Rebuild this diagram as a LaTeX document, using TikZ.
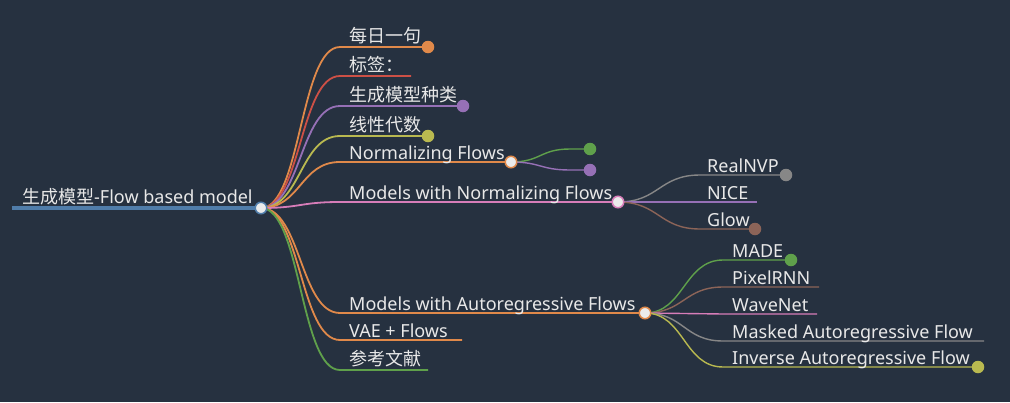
\documentclass[tikz,border=0pt]{standalone}
\usepackage{fontspec}
\setmainfont{Noto Sans}
\newfontfamily\cjk{Noto Sans CJK SC}
\definecolor{bg}{RGB}{38,49,64}
\definecolor{txt}{RGB}{232,232,232}
\definecolor{nodefill}{RGB}{235,235,235}
\definecolor{corange}{RGB}{224,137,74}
\definecolor{cred}{RGB}{205,80,70}
\definecolor{cpurple}{RGB}{150,112,182}
\definecolor{colive}{RGB}{185,185,80}
\definecolor{cgreen}{RGB}{95,160,75}
\definecolor{cpink}{RGB}{215,125,185}
\definecolor{cgray}{RGB}{135,135,135}
\definecolor{cbrown}{RGB}{140,100,88}
\definecolor{cblue}{RGB}{80,125,170}
\newcommand{\zh}[1]{{\cjk\fontsize{18}{21}\selectfont #1}}
\begin{document}
\begin{tikzpicture}[x=1pt,y=-1pt,
  lbl/.style={anchor=base west, inner sep=0pt, text=txt, font=\fontsize{18}{21}\selectfont},
  link/.style={line width=1.8pt},
  sublink/.style={line width=1.4pt},
  rootline/.style={line width=3.8pt},
  hub/.style={circle, fill=nodefill, draw=#1, line width=1.5pt, minimum size=11.5pt, inner sep=0pt},
  dot/.style={circle, fill=#1, minimum size=12.5pt, inner sep=0pt},
]
\fill[bg] (0,0) rectangle (1010,402);
\useasboundingbox (0,0) rectangle (1010,402);

% positions
\coordinate (Rs) at (12,208);
\coordinate (R) at (261,208);
\coordinate (N) at (511,162);
\coordinate (M) at (618,202);
\coordinate (A) at (645,313);

\coordinate (s1) at (340,47);  \coordinate (e1) at (428,47);
\coordinate (s2) at (340,76);  \coordinate (e2) at (411,76);
\coordinate (s3) at (340,106); \coordinate (e3) at (463,106);
\coordinate (s4) at (340,136); \coordinate (e4) at (428,136);
\coordinate (s5) at (340,162);
\coordinate (s6) at (340,202);
\coordinate (s7) at (340,313);
\coordinate (s8) at (340,340); \coordinate (e8) at (462,340);
\coordinate (s9) at (340,370); \coordinate (e9) at (428,370);

\coordinate (n1s) at (570,149); \coordinate (n1e) at (590,149);
\coordinate (n2s) at (570,170); \coordinate (n2e) at (590,170);

\coordinate (m1s) at (700,175); \coordinate (m1e) at (786,175);
\coordinate (m2s) at (700,202); \coordinate (m2e) at (757,202);
\coordinate (m3s) at (700,229); \coordinate (m3e) at (755,229);

\coordinate (a1s) at (723,260); \coordinate (a1e) at (791,260);
\coordinate (a2s) at (723,287); \coordinate (a2e) at (819,287);
\coordinate (a3s) at (723,314); \coordinate (a3e) at (817,314);
\coordinate (a4s) at (723,341); \coordinate (a4e) at (984,341);
\coordinate (a5s) at (723,367); \coordinate (a5e) at (978,367);

% root line
\draw[rootline, cblue] (Rs) -- (R);

% first-level links
\draw[link, corange] (R) .. controls +(40,0) and +(-40,0) .. (s1) -- (e1);
\draw[link, cred]    (R) .. controls +(40,0) and +(-40,0) .. (s2) -- (e2);
\draw[link, cpurple] (R) .. controls +(40,0) and +(-40,0) .. (s3) -- (e3);
\draw[link, colive]  (R) .. controls +(40,0) and +(-40,0) .. (s4) -- (e4);
\draw[link, corange] (R) .. controls +(40,0) and +(-40,0) .. (s5) -- (N);
\draw[link, cpink]   (R) .. controls +(40,0) and +(-40,0) .. (s6) -- (M);
\draw[link, corange] (R) .. controls +(40,0) and +(-40,0) .. (s7) -- (A);
\draw[link, corange] (R) .. controls +(40,0) and +(-40,0) .. (s8) -- (e8);
\draw[link, cgreen]  (R) .. controls +(40,0) and +(-40,0) .. (s9) -- (e9);

% Normalizing Flows children
\draw[sublink, cgreen]  (N) .. controls +(30,0) and +(-30,0) .. (n1s) -- (n1e);
\draw[sublink, cpurple] (N) .. controls +(30,0) and +(-30,0) .. (n2s) -- (n2e);

% Models with Normalizing Flows children
\draw[sublink, cgray]   (M) .. controls +(41,0) and +(-41,0) .. (m1s) -- (m1e);
\draw[sublink, cpurple] (M) -- (m2s) -- (m2e);
\draw[sublink, cbrown]  (M) .. controls +(41,0) and +(-41,0) .. (m3s) -- (m3e);

% Autoregressive children
\draw[sublink, cgreen]  (A) .. controls +(39,0) and +(-39,0) .. (a1s) -- (a1e);
\draw[sublink, cbrown]  (A) .. controls +(39,0) and +(-39,0) .. (a2s) -- (a2e);
\draw[sublink, cpink]   (A) .. controls +(39,0) and +(-39,0) .. (a3s) -- (a3e);
\draw[sublink, cgray]   (A) .. controls +(39,0) and +(-39,0) .. (a4s) -- (a4e);
\draw[sublink, colive]  (A) .. controls +(39,0) and +(-39,0) .. (a5s) -- (a5e);

% hubs and dots
\node[hub=cblue] (Rc) at (R) {};
\node[hub=corange] (Nc) at (N) {};
\node[hub=cpink] (Mc) at (M) {};
\node[hub=corange] (Ac) at (A) {};
\node[dot=corange] (d1) at (e1) {};
\node[dot=cpurple] (d3) at (e3) {};
\node[dot=colive] (d4) at (e4) {};
\node[dot=cgreen] (dn1) at (n1e) {};
\node[dot=cpurple] (dn2) at (n2e) {};
\node[dot=cgray] (dm1) at (m1e) {};
\node[dot=cbrown] (dm3) at (m3e) {};
\node[dot=cgreen] (da1) at (a1e) {};
\node[dot=colive] (da5) at (a5e) {};

% labels
\node[lbl] (troot) at (22,203) {\zh{生成模型}-Flow based model};
\node[lbl] (t1) at (349,42) {\zh{每日一句}};
\node[lbl] (t2) at (349,71) {\zh{标签：}};
\node[lbl] (t3) at (349,101) {\zh{生成模型种类}};
\node[lbl] (t4) at (349,131) {\zh{线性代数}};
\node[lbl] (t5) at (349,159) {Normalizing Flows};
\node[lbl] (t6) at (349,199) {Models with Normalizing Flows};
\node[lbl] (t7) at (349,310) {Models with Autoregressive Flows};
\node[lbl] (t8) at (349,337) {VAE + Flows};
\node[lbl] (t9) at (349,365) {\zh{参考文献}};

\node[lbl] (tm1) at (707,172) {RealNVP};
\node[lbl] (tm2) at (707,199) {NICE};
\node[lbl] (tm3) at (707,226) {Glow};

\node[lbl] (ta1) at (732,257) {MADE};
\node[lbl] (ta2) at (732,284) {PixelRNN};
\node[lbl] (ta3) at (732,311) {WaveNet};
\node[lbl] (ta4) at (732,338) {Masked Autoregressive Flow};
\node[lbl] (ta5) at (732,364) {Inverse Autoregressive Flow};
\end{tikzpicture}
\end{document}
